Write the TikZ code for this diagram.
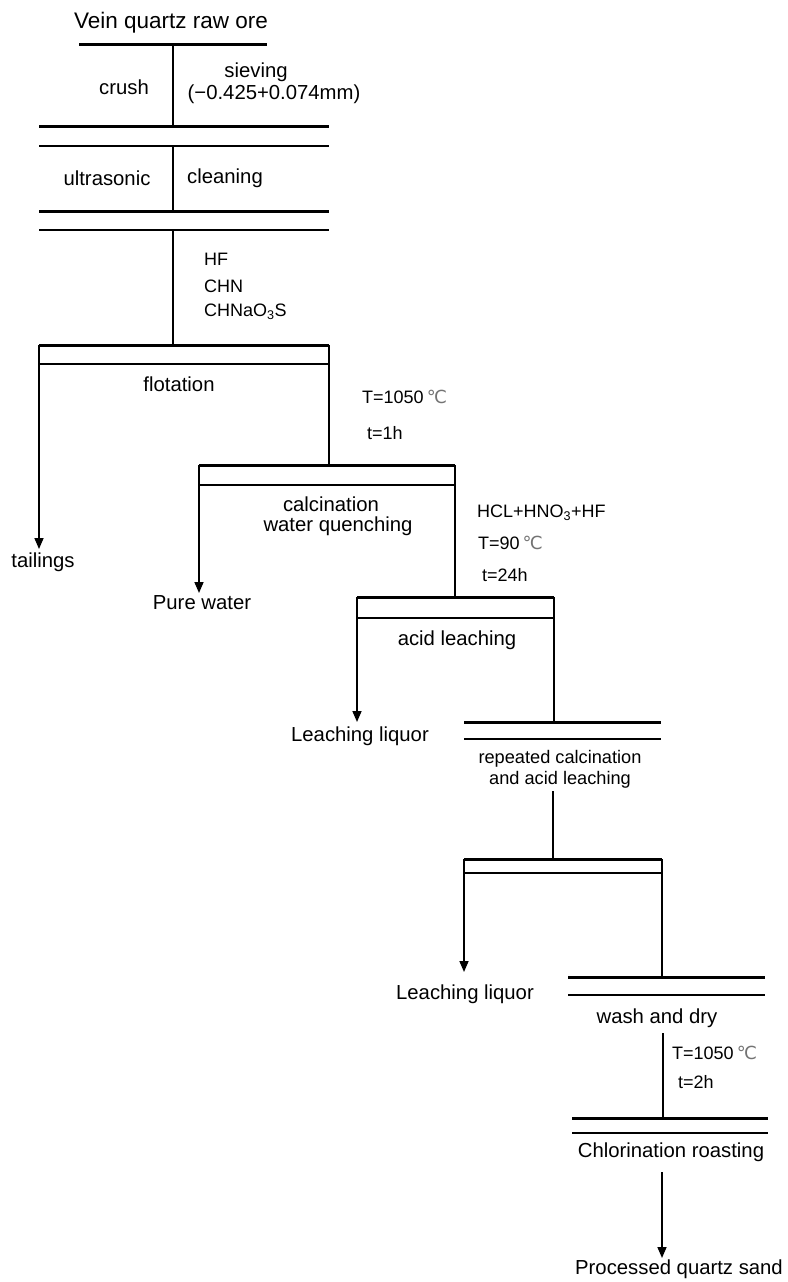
\documentclass[tikz,border=0pt]{standalone}
\usepackage{fontspec}
\setmainfont{Liberation Sans}
\newfontfamily\symfont{DejaVu Sans}
\usetikzlibrary{arrows.meta}
\newcommand{\degc}{{\symfont\color{black!55}\fontsize{18}{20}\selectfont ℃}}
\tikzset{
  thickbar/.style={line width=3pt},
  thinbar/.style={line width=1.3pt},
  link/.style={line width=1.6pt},
  outflow/.style={line width=1.6pt,-{Triangle[length=11pt,width=9pt]}},
  lbl/.style={inner sep=0pt,font=\fontsize{20.3}{24}\selectfont},
  cond/.style={inner sep=0pt,anchor=west,font=\fontsize{18}{22}\selectfont},
  title/.style={inner sep=0pt,font=\fontsize{22.5}{27}\selectfont}
}
\begin{document}
\begin{tikzpicture}[x=1pt,y=-1pt]
\useasboundingbox (0,0) rectangle (787,1282);
% title
\node[title] (ore) at (171,23) {Vein quartz raw ore};
\coordinate (b1l) at (79,44); \coordinate (b1r) at (267,44);
\draw[thickbar] (b1l) -- (b1r);
\coordinate (v1t) at (173,44); \coordinate (v1b) at (173,126);
\draw[link] (v1t) -- (v1b);
\node[lbl] (crush) at (124,87) {crush};
\node[lbl] (siev) at (256,72) {sieving};
\node[lbl] (size) at (274,94) {({\color{black}−}0.425+0.074mm)};
% crush/sieving bars
\coordinate (b2l) at (39,126); \coordinate (b2r) at (329,126);
\coordinate (b3l) at (39,146); \coordinate (b3r) at (329,146);
\draw[thickbar] (b2l) -- (b2r);
\draw[thinbar] (b3l) -- (b3r);
\coordinate (v2t) at (173,146); \coordinate (v2b) at (173,211);
\draw[link] (v2t) -- (v2b);
\node[lbl] (ultra) at (107,178) {ultrasonic};
\node[lbl] (clean) at (225,178) {cleaning};
\coordinate (b4l) at (39,211); \coordinate (b4r) at (329,211);
\coordinate (b5l) at (39,230); \coordinate (b5r) at (329,230);
\draw[thickbar] (b4l) -- (b4r);
\draw[thinbar] (b5l) -- (b5r);
\coordinate (v3t) at (173,230); \coordinate (v3b) at (173,345);
\draw[link] (v3t) -- (v3b);
\node[cond] (hf) at (204,259) {HF};
\node[cond] (chn) at (204,286) {CHN};
\node[cond] (chna) at (204,312) {CHNaO\textsubscript{3}S};
% flotation
\coordinate (fl) at (39,345); \coordinate (fr) at (329,345);
\coordinate (fl2) at (39,364); \coordinate (fr2) at (329,364);
\draw[thickbar] (fl) -- (fr);
\draw[thinbar] (fl2) -- (fr2);
\node[lbl] (flot) at (179,384) {flotation};
\node[lbl] (tail) at (43,562) {tailings};
\coordinate (tailin) at (39,549);
\draw[outflow] (fl) -- (tailin);
\coordinate (fout) at (329,465);
\draw[link] (fr) -- (fout);
\node[cond] (T1) at (362,397) {T=1050\,\degc};
\node[cond] (t1) at (367,433) {t=1h};
% calcination
\coordinate (cl) at (199,465); \coordinate (cr) at (455,465);
\coordinate (cl2) at (199,485); \coordinate (cr2) at (455,485);
\draw[thickbar] (cl) -- (cr);
\draw[thinbar] (cl2) -- (cr2);
\node[lbl] (calc) at (331,504) {calcination};
\node[lbl] (wq) at (338,526) {water quenching};
\node[lbl] (pw) at (202,603) {Pure water};
\coordinate (pwin) at (199,593);
\draw[outflow] (cl) -- (pwin);
\coordinate (cout) at (455,597);
\draw[link] (cr) -- (cout);
\node[cond] (acid) at (477,513) {HCL+HNO\textsubscript{3}+HF};
\node[cond] (T2) at (478,543) {T=90\,\degc};
\node[cond] (t2) at (482,575) {t=24h};
% acid leaching
\coordinate (al) at (357,597); \coordinate (ar) at (554,597);
\coordinate (al2) at (357,618); \coordinate (ar2) at (554,618);
\draw[thickbar] (al) -- (ar);
\draw[thinbar] (al2) -- (ar2);
\node[lbl] (aleach) at (457,640) {acid leaching};
\node[lbl] (ll1) at (360,736) {Leaching liquor};
\coordinate (ll1in) at (357,722);
\draw[outflow] (al) -- (ll1in);
\coordinate (aout) at (554,722);
\draw[link] (ar) -- (aout);
% repeated
\coordinate (rl) at (464,722); \coordinate (rr) at (661,722);
\coordinate (rl2) at (464,739); \coordinate (rr2) at (661,739);
\draw[thickbar] (rl) -- (rr);
\draw[thinbar] (rl2) -- (rr2);
\node[lbl,font=\fontsize{18.2}{22}\selectfont] (rep1) at (560,759) {repeated calcination};
\node[lbl,font=\fontsize{18.2}{22}\selectfont] (rep2) at (560,780) {and acid leaching};
\coordinate (rv1) at (553,791); \coordinate (rv2) at (553,859);
\draw[link] (rv1) -- (rv2);
% second leaching
\coordinate (sl) at (464,859); \coordinate (sr) at (662,859);
\coordinate (sl2) at (464,873); \coordinate (sr2) at (662,873);
\draw[thickbar] (sl) -- (sr);
\draw[thinbar] (sl2) -- (sr2);
\node[lbl] (ll2) at (465,994) {Leaching liquor};
\coordinate (ll2in) at (464,972);
\draw[outflow] (sl) -- (ll2in);
\coordinate (sout) at (662,977);
\draw[link] (sr) -- (sout);
% wash and dry
\coordinate (wl) at (568,977); \coordinate (wr) at (765,977);
\coordinate (wl2) at (568,995); \coordinate (wr2) at (765,995);
\draw[thickbar] (wl) -- (wr);
\draw[thinbar] (wl2) -- (wr2);
\node[lbl] (wash) at (657,1018) {wash and dry};
\coordinate (wv1) at (663,1033); \coordinate (wv2) at (663,1118);
\draw[link] (wv1) -- (wv2);
\node[cond] (T3) at (672,1053) {T=1050\,\degc};
\node[cond] (t3) at (678,1082) {t=2h};
% chlorination
\coordinate (hl) at (572,1118); \coordinate (hr) at (768,1118);
\coordinate (hl2) at (572,1133); \coordinate (hr2) at (768,1133);
\draw[thickbar] (hl) -- (hr);
\draw[thinbar] (hl2) -- (hr2);
\node[lbl] (chlor) at (671,1152) {Chlorination roasting};
\node[lbl] (prod) at (679,1269) {Processed quartz sand};
\coordinate (cv1) at (662,1172); \coordinate (cv2) at (662,1258);
\draw[outflow] (cv1) -- (cv2);
\end{tikzpicture}
\end{document}
